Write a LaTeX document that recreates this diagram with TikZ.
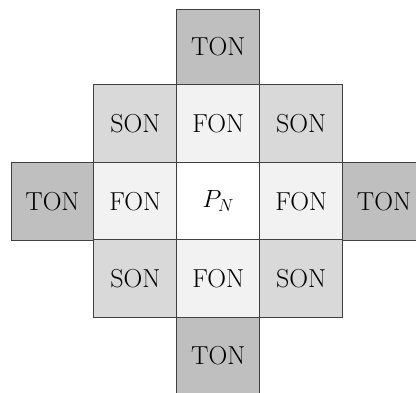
\documentclass[tikz,border=0pt]{standalone}
\begin{document}
\begin{tikzpicture}[x=1pt,y=-1pt,
  cell/.style={draw=black!75, line width=0.9pt, minimum width=82.9pt, minimum height=77.5pt,
    inner sep=0pt, font=\fontsize{26}{31}\selectfont},
  ton/.style={cell, fill=black!25},
  son/.style={cell, fill=black!15},
  fon/.style={cell, fill=black!5},
  ctr/.style={cell, fill=white}]
\useasboundingbox (0,0) rectangle (416,392);
\clip (0,0) rectangle (416,392);
% column centres: 52.45, 135.35, 218.25, 301.15, 384.05
% row centres: 123.6, 201.35, 278.6, 355.8
\node[ton, minimum height=75.2pt] (tT) at (218.25,46.9) {TON};
\node[son] (sNW) at (135.35,123.6) {SON};
\node[fon] (fN) at (218.25,123.6) {FON};
\node[son] (sNE) at (301.15,123.6) {SON};
\node[ton] (tL) at (52.45,201.35) {TON};
\node[fon] (fW) at (135.35,201.35) {FON};
\node[ctr] (c) at (218.25,201.35) {$P_N$};
\node[fon] (fE) at (301.15,201.35) {FON};
\node[ton] (tR) at (384.05,201.35) {TON};
\node[son] (sSW) at (135.35,278.6) {SON};
\node[fon] (fS) at (218.25,278.6) {FON};
\node[son] (sSE) at (301.15,278.6) {SON};
\node[ton] (tB) at (218.25,355.8) {TON};
\end{tikzpicture}
\end{document}
